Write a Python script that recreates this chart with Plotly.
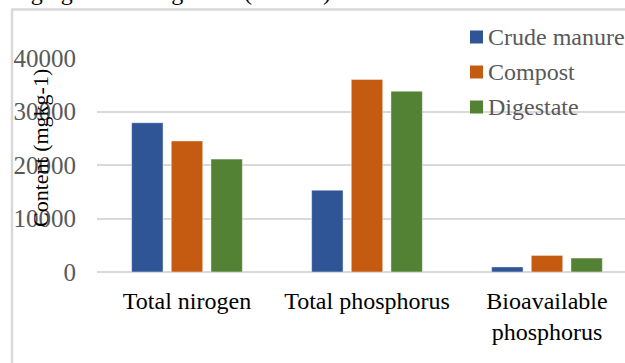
import plotly.graph_objects as go

categories = ["Total nirogen", "Total phosphorus", "Bioavailable<br>phosphorus"]
series_names = ["Crude manure", "Compost", "Digestate"]
crude_manure = [27900, 15300, 950]
compost = [24500, 36000, 3100]
digestate = [21100, 33800, 2600]
y_ticks = [0, 10000, 20000, 30000, 40000]

W, H = 625, 363
ML, MR, MT, MB = 97, 0, 58, 91
PW = W - ML - MR
PH = H - MT - MB

def px(x):
    return (x - ML) / PW

def py(y):
    return (H - MB - y) / PH

FONT = "Liberation Serif, Times New Roman, serif"
COLORS = ["#2F5597", "#C55A11", "#548235"]
edge = dict(width=1, color="rgba(255,255,255,0.45)")

fig = go.Figure()
for name, vals, col in zip(series_names, [crude_manure, compost, digestate], COLORS):
    fig.add_bar(name=name, x=categories, y=vals, marker=dict(color=col, line=edge))

shapes = [
    dict(type="line", xref="paper", yref="paper", x0=px(12), x1=px(12), y0=py(9), y1=py(370),
         line=dict(color="#D9D9D9", width=2.5)),
    dict(type="line", xref="paper", yref="paper", x0=px(11), x1=px(630), y0=py(9.5), y1=py(9.5),
         line=dict(color="#D9D9D9", width=2.5)),
]
annotations = [
    dict(text="Content (mgkg-1)", xref="paper", yref="paper", x=px(40), y=py(148),
         textangle=-90, showarrow=False, xanchor="center", yanchor="middle",
         font=dict(family=FONT, size=22, color="black")),
    dict(text="mg kg<sup>-1</sup> in the digestate (Table 5).", xref="paper", yref="paper",
         x=px(339), y=py(-10), xanchor="right", yanchor="middle", showarrow=False,
         font=dict(family=FONT, size=24, color="black")),
]
legend_y = [37, 72, 107]
for name, col, ly in zip(series_names, COLORS, legend_y):
    shapes.append(dict(type="rect", xref="paper", yref="paper",
                       x0=px(470), x1=px(483), y0=py(ly - 6.5), y1=py(ly + 6.5),
                       fillcolor=col, line=dict(width=0)))
    annotations.append(dict(text=name, xref="paper", yref="paper", x=px(486), y=py(ly),
                            xanchor="left", yanchor="middle", showarrow=False,
                            font=dict(family=FONT, size=24, color="#595959")))

fig.update_layout(
    width=W, height=H,
    margin=dict(l=ML, r=MR, t=MT, b=MB, pad=0),
    paper_bgcolor="white", plot_bgcolor="white",
    barmode="group", bargap=0.339, bargroupgap=0.207,
    font=dict(family=FONT, size=22, color="black"),
    showlegend=False,
    xaxis=dict(
        range=[-0.5, -0.5 + 3 * PW / 540], showgrid=False, showline=False,
        ticks="", tickfont=dict(family=FONT, size=24, color="black"),
        ticklabelstandoff=12,
    ),
    yaxis=dict(
        range=[0, 40000], tickvals=y_ticks, ticktext=[str(v) for v in y_ticks],
        showgrid=True, gridcolor="#D9D9D9", gridwidth=1.5,
        zeroline=True, zerolinecolor="#D9D9D9", zerolinewidth=1.5,
        showline=False, ticks="",
        tickfont=dict(family=FONT, size=25, color="#595959"),
        ticklabelstandoff=20,
    ),
    shapes=shapes,
    annotations=annotations,
)

fig.write_html("out.html", config={"displayModeBar": False},
               post_script="document.body.style.margin='0px';document.body.style.padding='0px';")
